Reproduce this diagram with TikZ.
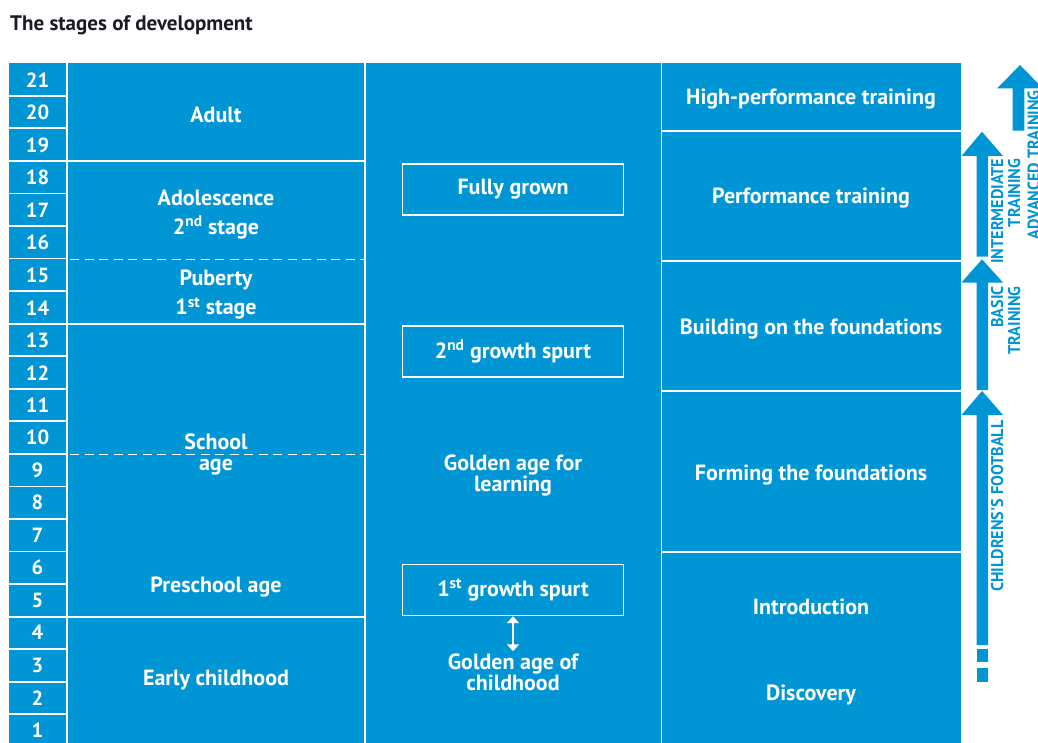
\documentclass[tikz,border=0pt]{standalone}
\usepackage{fontspec}
\setmainfont{PT Sans}
\newfontfamily\condfont{PT Sans}[FakeStretch=0.95]
\usetikzlibrary{arrows.meta}
\definecolor{dfbblue}{RGB}{0,150,214}
\definecolor{titlecol}{RGB}{28,28,38}
\tikzset{
  cell/.style={text=white, font=\bfseries\fontsize{22}{29}\selectfont, align=center, inner sep=0pt},
  tightcell/.style={cell, font=\bfseries\fontsize{22}{21}\selectfont},
  agenum/.style={text=white, font=\bfseries\fontsize{20.5}{23}\selectfont, inner sep=0pt},
  sep/.style={white, line width=1.8pt},
  dsep/.style={white, line width=1.6pt, dash pattern=on 9pt off 5.5pt},
  growbox/.style={draw=white, line width=1.4pt, minimum width=221pt, minimum height=51pt,
     text=white, font=\bfseries\fontsize{22}{23}\selectfont, inner sep=0pt},
  sidelabel/.style={text=dfbblue, font=\condfont\bfseries\fontsize{17}{17}\selectfont, rotate=90, align=right, inner sep=0pt},
  bigarrow/.style={fill=dfbblue, draw=none},
  duo/.style={white, line width=2pt, {Triangle[width=12pt,length=7pt]}-{Triangle[width=12pt,length=7pt]}},
}
\begin{document}
\begin{tikzpicture}[x=1pt,y=-1pt]
\clip (0,0) rectangle (1038,743);
\fill[white] (0,0) rectangle (1038,743);
% title
\node[anchor=base west, inner sep=0pt, text=titlecol, font=\bfseries\fontsize{21}{24}\selectfont] (title) at (10,31) {The stages of development};
% table background
\fill[dfbblue] (9,63.3) rectangle (961,760);
% vertical separators
\draw[sep] (67,63.3) -- (67,760);
\draw[sep] (365,63.3) -- (365,760);
\draw[sep] (661.5,63.3) -- (661.5,760);
% number column rows
\foreach \a in {1,...,21} {
  \node[agenum] (n\a) at (37.5,{64+(21-\a+0.5)*32.5}) {\a};
}
\foreach \k in {1,...,20} {
  \draw[sep] (9,{63.3+\k*32.55}) -- (67,{63.3+\k*32.55});
}
% column 2 separators
\draw[sep] (67,161.3) -- (365,161.3);
\draw[dsep] (70,259.5) -- (365,259.5);
\draw[sep] (67,324.3) -- (365,324.3);
\draw[dsep] (70,454.5) -- (365,454.5);
\draw[sep] (67,617) -- (365,617);
% column 4 separators
\draw[sep] (661.5,130.7) -- (961,130.7);
\draw[sep] (661.5,260.7) -- (961,260.7);
\draw[sep] (661.5,391) -- (961,391);
\draw[sep] (661.5,552) -- (961,552);
% column 2 labels
\node[cell] (adult) at (216,115) {Adult};
\node[cell] (adol) at (216,214.5) {Adolescence\\2\textsuperscript{nd} stage};
\node[cell] (pub) at (216,295) {Puberty\\1\textsuperscript{st} stage};
\node[tightcell] (school) at (216,454.5) {School\\age};
\node[cell] (presch) at (216,587) {Preschool age};
\node[cell] (early) at (216,680) {Early childhood};
% column 3
\node[growbox] (full) at (513,189.5) {Fully grown};
\node[growbox] (g2) at (513,351.5) {2\textsuperscript{nd} growth spurt};
\node[tightcell] (goldl) at (513,475.5) {Golden age for\\learning};
\node[growbox] (g1) at (513,590) {1\textsuperscript{st} growth spurt};
\node[tightcell] (goldc) at (513,672) {Golden age of\\childhood};
\draw[duo, shorten >=2pt] (g1.south) -- (goldc.north);
% column 4
\node[cell] (hpt) at (811,99) {High-performance training};
\node[cell] (pt) at (811,198) {Performance training};
\node[cell] (build) at (811,329) {Building on the foundations};
\node[cell] (form) at (811,475) {Forming the foundations};
\node[cell] (intro) at (811,607) {Introduction};
\node[cell] (disc) at (811,695) {Discovery};
% side arrows
\fill[bigarrow] (1020,65) -- (1043,88.5) -- (1024.3,88.5) -- (1024.3,130.7) -- (1012.7,130.7) -- (1012.7,88.5) -- (997,88.5) -- cycle;
\fill[bigarrow] (982,131.7) -- (1003,156) -- (988,156) -- (988,256.7) -- (976.5,256.7) -- (976.5,156) -- (961.5,156) -- cycle;
\fill[bigarrow] (982,259.3) -- (1003,282.5) -- (988,282.5) -- (988,390) -- (976.5,390) -- (976.5,282.5) -- (961.5,282.5) -- cycle;
\fill[bigarrow] (982,391) -- (1003,415) -- (988,415) -- (988,645) -- (976.5,645) -- (976.5,415) -- (961.5,415) -- cycle;
\fill[bigarrow] (976.5,648.5) rectangle (988,662);
\fill[bigarrow] (976.5,668) rectangle (988,682);
% side labels
\node[sidelabel, anchor=south east] (adv) at (1040,90) {ADVANCED TRAINING};
\node[sidelabel, anchor=south east] (inter) at (1020.5,158.5) {INTERMEDIATE\\TRAINING};
\node[sidelabel, anchor=south east] (basic) at (1020.5,286) {BASIC\\TRAINING};
\node[sidelabel, anchor=south west] (child) at (1003.5,592) {CHILDRENS'S FOOTBALL};
\end{tikzpicture}
\end{document}
